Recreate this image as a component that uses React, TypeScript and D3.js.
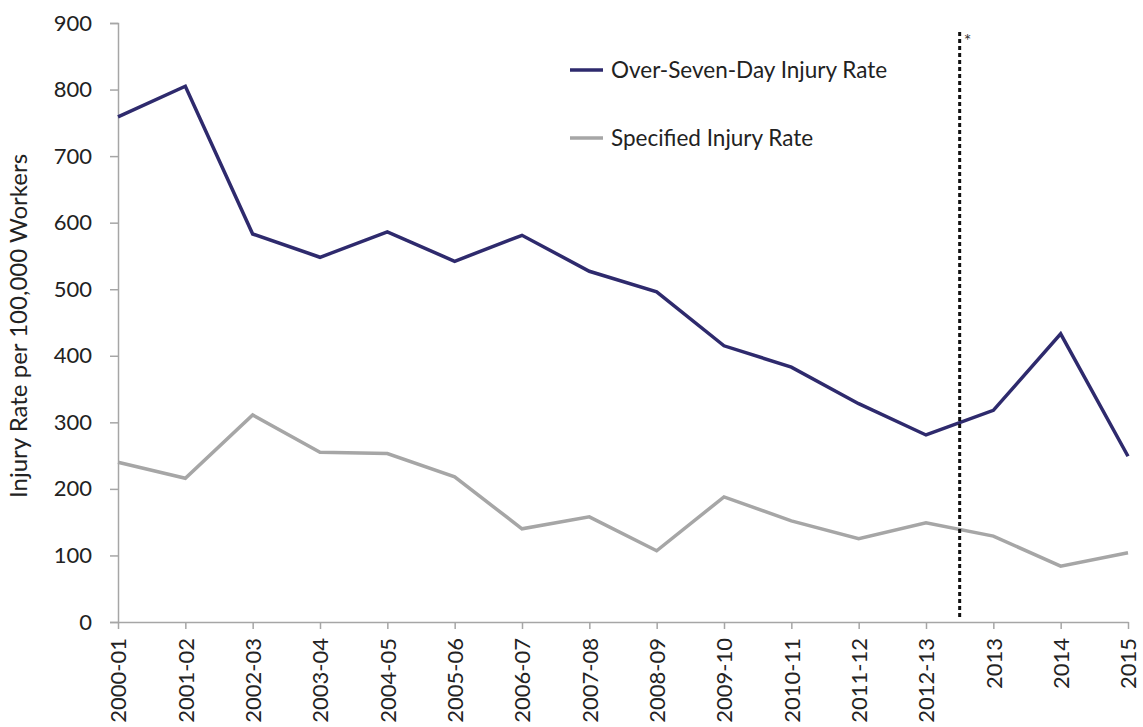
import React, { useEffect, useRef } from 'react'
import * as d3 from 'd3'

const categories = [
  '2000-01', '2001-02', '2002-03', '2003-04', '2004-05', '2005-06', '2006-07', '2007-08',
  '2008-09', '2009-10', '2010-11', '2011-12', '2012-13', '2013', '2014', '2015',
]
const overSevenDay = [759, 805, 583, 548, 586, 542, 581, 527, 496, 415, 383, 328, 281, 318, 433, 249]
const specified = [240, 216, 311, 255, 253, 218, 140, 158, 107, 188, 152, 125, 149, 129, 84, 104]
const yTicks = [0, 100, 200, 300, 400, 500, 600, 700, 800, 900]
const seriesNames = ['Over-Seven-Day Injury Rate', 'Specified Injury Rate']
const seriesColors = ['#2e2a6d', '#a6a6a6']
// break in the series falls between 2012-13 and 2013
const breakPosition = 12.5

const W = 1143
const H = 727
const FONT = 'Lato, "Open Sans", sans-serif'

export default function App() {
  const ref = useRef<SVGSVGElement>(null)

  useEffect(() => {
    const svg = d3.select(ref.current)
    svg.selectAll('*').remove()

    const left = 118,
      right = 1128,
      top = 23,
      bottom = 622

    const x = d3.scaleLinear().domain([0, categories.length - 1]).range([left, right])
    const y = d3.scaleLinear().domain([0, 900]).range([bottom, top])

    // y axis
    const yAxis = svg
      .append('g')
      .attr('transform', 'translate(' + left + ',0)')
      .call(d3.axisLeft(y).tickValues(yTicks).tickSize(8).tickPadding(18))
    yAxis.select('.domain').attr('stroke', '#a6a6a6').attr('stroke-width', 1.5)
    yAxis.selectAll('.tick line').attr('stroke', '#a6a6a6').attr('stroke-width', 1.5)
    yAxis
      .selectAll('.tick text')
      .attr('font-family', FONT)
      .attr('font-size', 22)
      .attr('fill', '#222')

    // x axis
    const xAxis = svg
      .append('g')
      .attr('transform', 'translate(0,' + bottom + ')')
      .call(
        d3
          .axisBottom(x)
          .tickValues(d3.range(categories.length))
          .tickFormat((d) => categories[d as number])
          .tickSize(7)
          .tickSizeOuter(0)
      )
    xAxis.select('.domain').attr('stroke', '#a6a6a6').attr('stroke-width', 1.5)
    xAxis.selectAll('.tick line').attr('stroke', '#a6a6a6').attr('stroke-width', 1.5)
    xAxis
      .selectAll('.tick text')
      .attr('font-family', FONT)
      .attr('font-size', 22)
      .attr('fill', '#222')
      .attr('text-anchor', 'end')
      .attr('transform', 'rotate(-90)')
      .attr('x', -16)
      .attr('y', 0)
      .attr('dy', '0.35em')

    // y axis title
    svg
      .append('text')
      .attr('transform', 'translate(27,326) rotate(-90)')
      .attr('text-anchor', 'middle')
      .attr('font-family', FONT)
      .attr('font-size', 24)
      .attr('fill', '#222')
      .text('Injury Rate per 100,000 Workers')

    const line = d3
      .line<number>()
      .x((d, i) => x(i))
      .y((d) => y(d))

    svg
      .append('path')
      .datum(specified)
      .attr('d', line)
      .attr('fill', 'none')
      .attr('stroke', seriesColors[1])
      .attr('stroke-width', 3.5)

    svg
      .append('path')
      .datum(overSevenDay)
      .attr('d', line)
      .attr('fill', 'none')
      .attr('stroke', seriesColors[0])
      .attr('stroke-width', 3.5)

    // dotted break marker
    svg
      .append('line')
      .attr('x1', x(breakPosition))
      .attr('x2', x(breakPosition))
      .attr('y1', 32)
      .attr('y2', bottom - 4)
      .attr('stroke', '#111')
      .attr('stroke-width', 3)
      .attr('stroke-dasharray', '4 3')

    svg
      .append('text')
      .attr('x', x(breakPosition) + 4)
      .attr('y', 47)
      .attr('font-family', FONT)
      .attr('font-size', 18)
      .attr('fill', '#333')
      .text('*')

    // legend
    const legend = svg.append('g')
    seriesNames.forEach((name, i) => {
      const ly = 70 + i * 68
      legend
        .append('line')
        .attr('x1', 570)
        .attr('x2', 603)
        .attr('y1', ly)
        .attr('y2', ly)
        .attr('stroke', seriesColors[i])
        .attr('stroke-width', 3.5)
      legend
        .append('text')
        .attr('x', 611)
        .attr('y', ly)
        .attr('dy', '0.35em')
        .attr('font-family', FONT)
        .attr('font-size', 22.5)
        .attr('fill', '#222')
        .text(name)
    })
  }, [])

  return (
    <svg
      ref={ref}
      width={W}
      height={H}
      style={{ position: 'absolute', left: 0, top: 0, background: '#fff' }}
    />
  )
}
